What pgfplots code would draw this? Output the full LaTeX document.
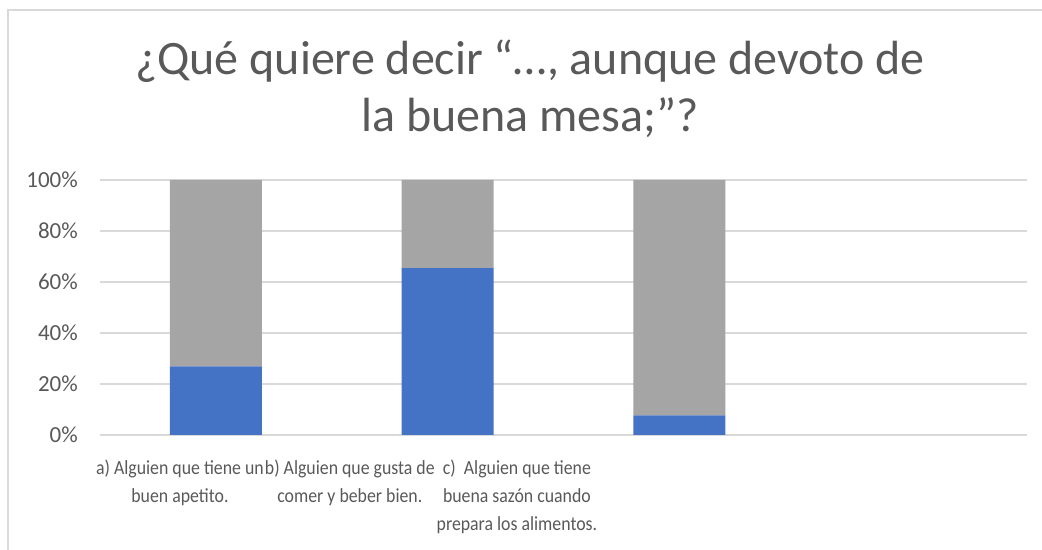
\documentclass[border=0pt]{standalone}
\usepackage{fontspec}
\setmainfont{Carlito}
\newfontfamily\labfont[FakeStretch=0.89]{Carlito}
\usepackage{pgfplots}
\pgfplotsset{compat=1.18}
\definecolor{barblue}{HTML}{4472C4}
\definecolor{bargray}{HTML}{A5A5A5}
\definecolor{txt}{HTML}{595959}
\definecolor{gridc}{HTML}{D9D9D9}
\begin{document}
\begin{tikzpicture}[x=1bp,y=1bp]
\path[use as bounding box] (0,0) rectangle (1042,550);
\draw[gridc, line width=1.3bp] (8,0) -- (8,540) -- (1042,540);
\node[anchor=base, text=txt, inner sep=0pt, font=\fontsize{48bp}{58bp}\selectfont] at (530,475) {¿Qué quiere decir “…, aunque devoto de};
\node[anchor=base, text=txt, inner sep=0pt, font=\fontsize{48bp}{58bp}\selectfont] at (530,418) {la buena mesa;”?};
\begin{axis}[
  at={(100bp,115bp)}, anchor=south west,
  scale only axis, width=927bp, height=255bp,
  xmin=-0.5, xmax=3.5, ymin=0, ymax=100,
  ybar stacked, bar width=92bp,
  axis line style={draw=none},
  major tick length=0pt,
  ymajorgrids, grid style={gridc, line width=1.3bp},
  ytick={0,20,40,60,80,100},
  yticklabels={0\%,20\%,40\%,60\%,80\%,100\%},
  yticklabel style={text=txt, inner sep=0pt, xshift=-22bp, font=\fontsize{23bp}{27bp}\selectfont},
  xtick={-0.155,0.578,1.299},
  xticklabels={{a) Alguien que tiene un\\buen apetito.},{b) Alguien que gusta de\\comer y beber bien.},{c)\ \ Alguien que tiene\\buena sazón cuando\\prepara los alimentos.}},
  xticklabel style={text=txt, inner sep=0pt, anchor=north, align=center, yshift=-25bp, font=\labfont\fontsize{20bp}{28bp}\selectfont},
]
\addplot[fill=barblue, draw=none] coordinates {(0,26.9) (1,65.4) (2,7.7)};
\addplot[fill=bargray, draw=none] coordinates {(0,73.1) (1,34.6) (2,92.3)};
\end{axis}
\end{tikzpicture}
\end{document}
